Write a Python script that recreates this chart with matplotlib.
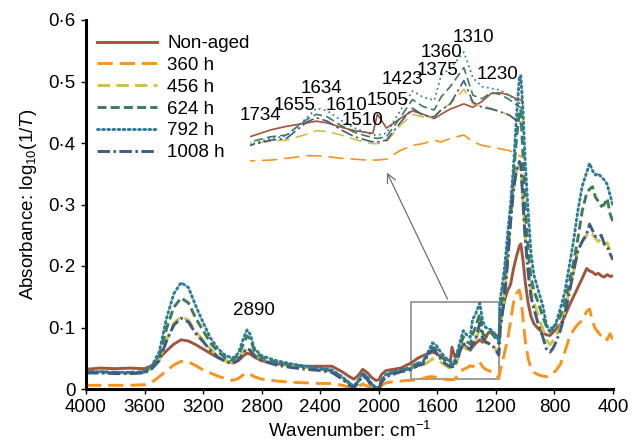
import matplotlib
matplotlib.use('Agg')
import matplotlib.pyplot as plt
import matplotlib.patches as patches

plt.rcParams['font.family'] = ['Liberation Sans', 'DejaVu Sans']
plt.rcParams['font.size'] = 13.5
plt.rcParams['mathtext.fontset'] = 'custom'
plt.rcParams['mathtext.rm'] = 'Liberation Sans'
plt.rcParams['mathtext.it'] = 'Liberation Sans:italic'
plt.rcParams['lines.scale_dashes'] = False

# wavenumber grid (cm-1)
WAVENUMBER = [4000, 3900, 3800, 3700, 3600, 3550, 3500, 3450, 3400, 3350,
              3300, 3250, 3200, 3150, 3100, 3050, 3000, 2960, 2920, 2900,
              2880, 2850, 2800, 2700, 2600, 2500, 2400, 2320, 2250, 2200,
              2170, 2140, 2110, 2080, 2050, 2020, 2000, 1980, 1950, 1900,
              1850, 1800, 1780, 1734, 1700, 1655, 1634, 1610, 1580, 1550,
              1525, 1510, 1500, 1480, 1450, 1423, 1400, 1375, 1360, 1340,
              1310, 1290, 1270, 1250, 1230, 1210, 1195, 1180, 1170, 1140,
              1120, 1100, 1080, 1060, 1040, 1030, 1015, 1000, 980, 960,
              940, 910, 880, 855, 830, 810, 790, 760, 730, 700,
              670, 640, 610, 580, 560, 540, 520, 500, 480, 460,
              440, 420, 400]

NON_AGED = [0.032, 0.034, 0.033, 0.034, 0.033, 0.038, 0.050, 0.062, 0.073, 0.080,
            0.078, 0.072, 0.065, 0.058, 0.051, 0.046, 0.043, 0.046, 0.055, 0.058,
            0.057, 0.052, 0.046, 0.041, 0.039, 0.037, 0.037, 0.037, 0.028, 0.020,
            0.016, 0.022, 0.032, 0.027, 0.019, 0.014, 0.015, 0.024, 0.030, 0.032,
            0.034, 0.040, 0.042, 0.050, 0.054, 0.058, 0.060, 0.058, 0.053, 0.049,
            0.047, 0.046, 0.068, 0.052, 0.063, 0.072, 0.068, 0.063, 0.068, 0.074,
            0.080, 0.076, 0.083, 0.092, 0.093, 0.090, 0.086, 0.084, 0.110, 0.145,
            0.160, 0.170, 0.195, 0.215, 0.232, 0.236, 0.210, 0.175, 0.140, 0.118,
            0.106, 0.098, 0.092, 0.088, 0.087, 0.092, 0.097, 0.104, 0.118, 0.135,
            0.150, 0.165, 0.180, 0.196, 0.192, 0.190, 0.186, 0.188, 0.184, 0.182,
            0.186, 0.183, 0.184]

H360 = [0.006, 0.006, 0.006, 0.006, 0.007, 0.011, 0.020, 0.030, 0.039, 0.045,
        0.044, 0.038, 0.031, 0.026, 0.021, 0.017, 0.014, 0.017, 0.024, 0.026,
        0.024, 0.020, 0.016, 0.013, 0.011, 0.010, 0.009, 0.009, 0.006, 0.003,
        0.001, 0.004, 0.008, 0.005, 0.002, 0.000, 0.000, 0.006, 0.010, 0.012,
        0.013, 0.014, 0.014, 0.015, 0.017, 0.020, 0.020, 0.019, 0.017, 0.016,
        0.015, 0.015, 0.015, 0.016, 0.026, 0.032, 0.034, 0.038, 0.036, 0.040,
        0.044, 0.036, 0.032, 0.030, 0.028, 0.026, 0.022, 0.018, 0.030, 0.060,
        0.080, 0.110, 0.140, 0.155, 0.161, 0.150, 0.115, 0.080, 0.050, 0.033,
        0.027, 0.023, 0.021, 0.020, 0.022, 0.026, 0.030, 0.040, 0.060, 0.082,
        0.096, 0.105, 0.112, 0.126, 0.130, 0.110, 0.098, 0.092, 0.086, 0.088,
        0.080, 0.090, 0.080]

H456 = [0.027, 0.027, 0.026, 0.026, 0.027, 0.034, 0.047, 0.080, 0.107, 0.118,
        0.112, 0.093, 0.080, 0.065, 0.053, 0.046, 0.042, 0.048, 0.062, 0.068,
        0.066, 0.057, 0.048, 0.041, 0.038, 0.035, 0.032, 0.029, 0.018, 0.008,
        0.003, 0.012, 0.024, 0.018, 0.007, 0.001, 0.001, 0.013, 0.022, 0.026,
        0.029, 0.032, 0.034, 0.037, 0.038, 0.045, 0.049, 0.048, 0.044, 0.039,
        0.035, 0.034, 0.034, 0.036, 0.055, 0.068, 0.065, 0.065, 0.074, 0.080,
        0.097, 0.080, 0.078, 0.075, 0.071, 0.067, 0.062, 0.058, 0.100, 0.156,
        0.210, 0.275, 0.325, 0.355, 0.365, 0.362, 0.307, 0.250, 0.195, 0.160,
        0.140, 0.118, 0.098, 0.080, 0.072, 0.078, 0.086, 0.100, 0.125, 0.160,
        0.190, 0.225, 0.240, 0.250, 0.256, 0.252, 0.245, 0.240, 0.244, 0.235,
        0.238, 0.225, 0.218]

H624 = [0.028, 0.028, 0.027, 0.027, 0.028, 0.036, 0.052, 0.098, 0.133, 0.148,
        0.140, 0.115, 0.095, 0.075, 0.061, 0.051, 0.047, 0.054, 0.076, 0.086,
        0.082, 0.063, 0.051, 0.043, 0.039, 0.036, 0.033, 0.030, 0.019, 0.009,
        0.004, 0.013, 0.025, 0.019, 0.008, 0.002, 0.002, 0.014, 0.023, 0.027,
        0.030, 0.034, 0.036, 0.042, 0.044, 0.062, 0.068, 0.065, 0.055, 0.047,
        0.043, 0.041, 0.040, 0.042, 0.064, 0.085, 0.077, 0.073, 0.088, 0.100,
        0.122, 0.090, 0.086, 0.093, 0.091, 0.085, 0.079, 0.074, 0.124, 0.183,
        0.231, 0.285, 0.345, 0.405, 0.450, 0.455, 0.380, 0.300, 0.225, 0.180,
        0.160, 0.140, 0.118, 0.102, 0.098, 0.100, 0.104, 0.118, 0.140, 0.172,
        0.205, 0.245, 0.290, 0.318, 0.325, 0.329, 0.312, 0.305, 0.297, 0.300,
        0.310, 0.285, 0.272]

H792 = [0.028, 0.028, 0.027, 0.027, 0.028, 0.038, 0.060, 0.115, 0.155, 0.173,
        0.165, 0.135, 0.108, 0.083, 0.066, 0.055, 0.050, 0.058, 0.085, 0.096,
        0.090, 0.066, 0.054, 0.046, 0.041, 0.037, 0.034, 0.031, 0.020, 0.010,
        0.004, 0.014, 0.026, 0.020, 0.009, 0.002, 0.002, 0.015, 0.024, 0.028,
        0.030, 0.032, 0.033, 0.040, 0.043, 0.064, 0.075, 0.072, 0.061, 0.052,
        0.047, 0.044, 0.044, 0.046, 0.072, 0.095, 0.088, 0.084, 0.113, 0.121,
        0.140, 0.110, 0.100, 0.098, 0.096, 0.090, 0.084, 0.078, 0.145, 0.199,
        0.252, 0.300, 0.360, 0.440, 0.505, 0.510, 0.454, 0.370, 0.290, 0.220,
        0.185, 0.160, 0.136, 0.105, 0.092, 0.098, 0.107, 0.130, 0.157, 0.198,
        0.240, 0.290, 0.330, 0.352, 0.367, 0.355, 0.348, 0.350, 0.345, 0.340,
        0.333, 0.315, 0.298]

H1008 = [0.026, 0.026, 0.025, 0.025, 0.026, 0.033, 0.046, 0.078, 0.104, 0.115,
         0.109, 0.090, 0.077, 0.063, 0.052, 0.045, 0.041, 0.047, 0.060, 0.066,
         0.063, 0.054, 0.046, 0.039, 0.035, 0.032, 0.030, 0.027, 0.016, 0.006,
         0.002, 0.010, 0.022, 0.016, 0.005, 0.000, 0.000, 0.011, 0.020, 0.024,
         0.028, 0.030, 0.032, 0.038, 0.040, 0.059, 0.064, 0.060, 0.050, 0.042,
         0.038, 0.036, 0.036, 0.038, 0.058, 0.075, 0.067, 0.065, 0.073, 0.080,
         0.107, 0.082, 0.076, 0.074, 0.071, 0.067, 0.061, 0.055, 0.098, 0.150,
         0.205, 0.270, 0.322, 0.355, 0.370, 0.365, 0.305, 0.245, 0.190, 0.150,
         0.130, 0.105, 0.085, 0.065, 0.060, 0.066, 0.076, 0.095, 0.120, 0.155,
         0.190, 0.225, 0.240, 0.252, 0.268, 0.258, 0.248, 0.247, 0.250, 0.236,
         0.232, 0.220, 0.210]

LABELS = ['Non-aged', '360 h', '456 h', '624 h', '792 h', '1008 h']
SERIES = [NON_AGED, H360, H456, H624, H792, H1008]
COLORS = ['#A0553F', '#F7931E', '#CBC343', '#3E7C54', '#2C7C9C', '#3E5B85']
STYLES = ['-', (0, (11, 5)), (0, (9, 4.5)), (0, (6.5, 3)), (0, (1.3, 2.4)),
          (0, (9, 2.5, 1.8, 2.5))]

# peak labels of the magnified part
PEAKS = ['1734', '1655', '1634', '1610', '1510', '1505',
         '1423', '1375', '1360', '1310', '1230']
PEAK_X = [1758, 1681, 1622, 1569, 1532, 1477, 1446, 1367, 1360, 1290, 1235]
PEAK_Y = [0.067, 0.078, 0.098, 0.078, 0.061, 0.084, 0.108, 0.119, 0.140, 0.157, 0.114]

fig = plt.figure(figsize=(6.37, 4.47), dpi=100)
ax = fig.add_axes([86/637, 58/447, 527/637, 369/447])

for y, lab, c, ls in zip(SERIES, LABELS, COLORS, STYLES):
    ax.plot(WAVENUMBER, y, color=c, linestyle=ls, lw=2.1, label=lab,
            dash_capstyle='round' if lab == '792 h' else 'butt')

ax.set_xlim(4000, 400)
ax.set_ylim(0, 0.6)
ax.set_xticks(range(4000, 399, -400))
ax.set_yticks([0, 0.1, 0.2, 0.3, 0.4, 0.5, 0.6])
ax.set_yticklabels(['0', '0\u00b71', '0\u00b72', '0\u00b73', '0\u00b74', '0\u00b75', '0\u00b76'])
for s in ['top', 'right']:
    ax.spines[s].set_visible(False)
for s in ['left', 'bottom']:
    ax.spines[s].set_linewidth(2.2)
ax.tick_params(direction='out', length=3.5, width=1, pad=4)
ax.set_xlabel('Wavenumber: cm$^{-1}$', labelpad=3)
ax.set_ylabel('Absorbance: log$_{10}$(1/$T$)', labelpad=7)

ax.text(2853, 0.127, '2890', ha='center', va='center')

# box around the magnified region and the arrow to the inset
ax.add_patch(patches.Rectangle((1177, 0.016), 603, 0.126, fill=False,
                               ec='#8c8c8c', lw=1.2))
ax.annotate('', xy=(1952, 0.356), xytext=(1522, 0.142),
            arrowprops=dict(arrowstyle='->', color='#707070', lw=0.9,
                            mutation_scale=16))

ax.legend(loc='upper left', bbox_to_anchor=(97/637, 1 - 35/447),
          bbox_transform=fig.transFigure, frameon=False, borderpad=0,
          borderaxespad=0, handlelength=3.2, handletextpad=0.55,
          labelspacing=0.25)

# inset: magnified 1780-1180 cm-1
axi = fig.add_axes([250/637, (447-173)/447, 273/637, 133/447])
axi.patch.set_alpha(0)
for y, c, ls in zip(SERIES, COLORS, STYLES):
    axi.plot(WAVENUMBER, y, color=c, linestyle=ls, lw=1.2)
axi.set_xlim(1780, 1180)
axi.set_ylim(0, 0.154)
axi.axis('off')
for t, x, y in zip(PEAKS, PEAK_X, PEAK_Y):
    axi.text(x, y, t, ha='center', va='center', clip_on=False)

fig.savefig('out.png', dpi=100)
